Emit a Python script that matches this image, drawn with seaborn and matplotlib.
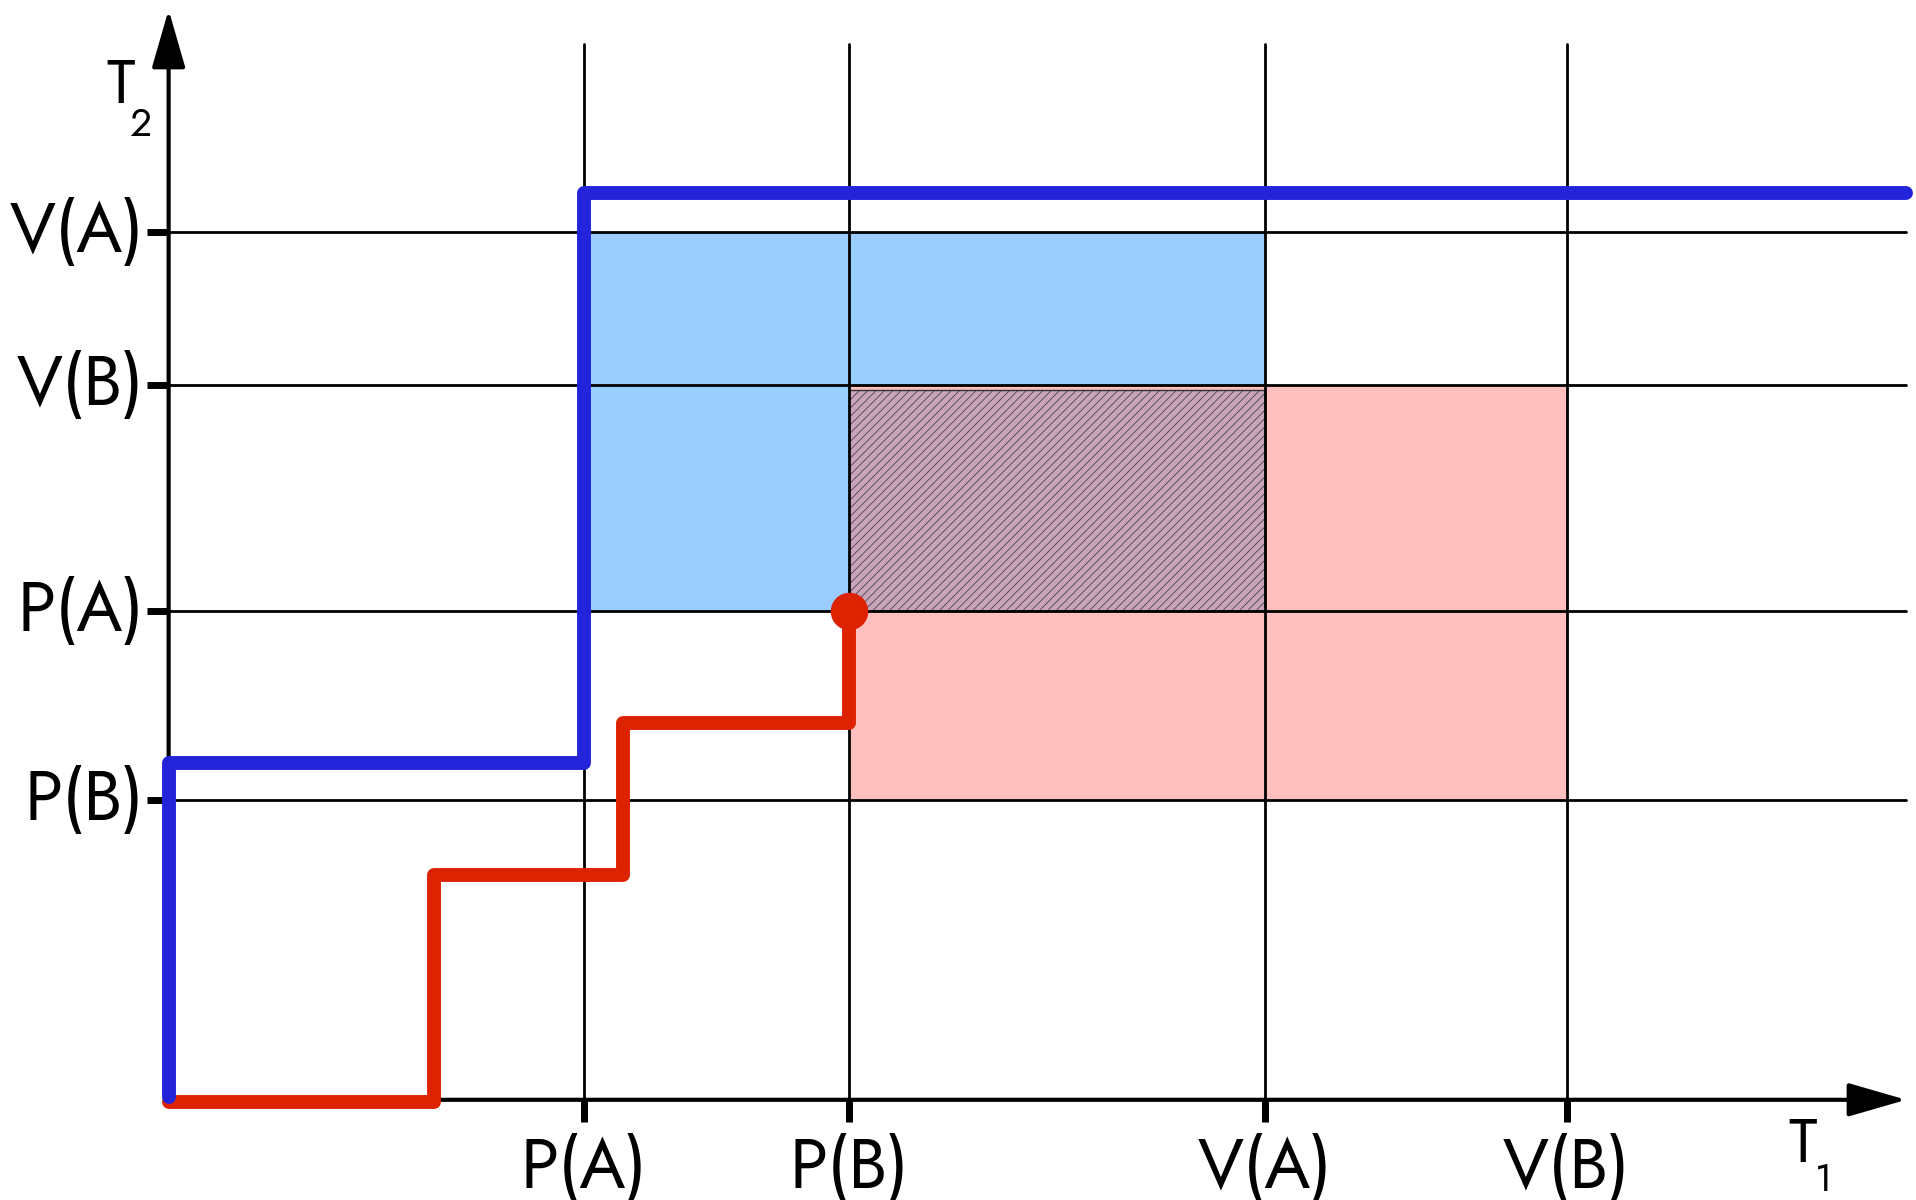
import numpy as np
import pandas as pd
import seaborn as sns
import matplotlib.pyplot as plt
from matplotlib.patches import Rectangle

# Values ######################################################################

t1_labels = ["P(A)", "P(B)", "V(A)", "V(B)"]
t1_values = [3.40, 5.57, 8.97, 11.44]

t2_labels = ["V(A)", "V(B)", "P(A)", "P(B)"]
t2_values = [7.10, 5.85, 4.00, 2.45]

blue_t1 = [0.0, 0.0, 3.40, 3.40, 14.22]
blue_t2 = [0.02, 2.76, 2.76, 7.42, 7.42]

red_t1 = [0.0, 2.17, 2.17, 3.72, 3.72, 5.57, 5.57]
red_t2 = [-0.02, -0.02, 1.84, 1.84, 3.08, 3.08, 4.00]

t1_max = 14.22
t2_max = 8.92
grid_top = 8.64

# Setup #######################################################################

sns.set_theme(style="white")
plt.rcParams['font.family'] = ['Jost', 'DejaVu Sans']
plt.rcParams['text.color'] = 'black'

fig = plt.figure(figsize=(19.16, 12), dpi=100)
ax = fig.add_axes([0, 0, 1, 1])

t1 = dict(zip(t1_labels, t1_values))
t2 = dict(zip(t2_labels, t2_values))

# Regions #####################################################################

blue_box = (t1["P(A)"], t1["V(A)"], t2["P(A)"], t2["V(A)"])
red_box = (t1["P(B)"], t1["V(B)"], t2["P(B)"], t2["V(B)"])
both_box = (max(blue_box[0], red_box[0]), min(blue_box[1], red_box[1]),
            max(blue_box[2], red_box[2]), min(blue_box[3], red_box[3]))

for (x0, x1, y0, y1), col in [(blue_box, '#99ccff'), (red_box, '#ffbfbf')]:
    ax.add_patch(Rectangle((x0, y0), x1 - x0, y1 - y0, facecolor=col,
                           edgecolor='none', zorder=1))

plt.rcParams['hatch.color'] = '#9d8294'
plt.rcParams['hatch.linewidth'] = 0.5
x0, x1, y0, y1 = both_box
ax.add_patch(Rectangle((x0, y0), x1 - x0, y1 - y0 - 0.04, facecolor='#c8a3ba',
                       edgecolor='#333333', linewidth=1.0, hatch='////',
                       zorder=2))

# Grid lines and ticks ########################################################

for v in t1_values:
    ax.plot([v, v], [0, grid_top], color='black', lw=2.0, zorder=3)
    ax.plot([v, v], [-0.18, 0], color='black', lw=5, solid_capstyle='butt', zorder=3)
for v in t2_values:
    ax.plot([0, t1_max], [v, v], color='black', lw=2.0, zorder=3)
    ax.plot([-0.18, 0], [v, v], color='black', lw=5, solid_capstyle='butt', zorder=3)

# Axes with arrows ############################################################

arrow = dict(arrowstyle='-|>,head_length=0.9,head_width=0.26', color='black',
             lw=3.0, mutation_scale=40, shrinkA=0, shrinkB=0)
ax.annotate('', xy=(t1_max, 0), xytext=(0, 0), arrowprops=arrow, zorder=4)
ax.annotate('', xy=(0, t2_max), xytext=(0, 0), arrowprops=arrow, zorder=4)

# Step curves #################################################################

df_blue = pd.DataFrame({'T1': blue_t1, 'T2': blue_t2})
df_red = pd.DataFrame({'T1': red_t1, 'T2': red_t2})

sns.lineplot(data=df_red, x='T1', y='T2', sort=False, estimator=None,
             color='#dd2200', lw=10, ax=ax, zorder=5)
sns.lineplot(data=df_blue, x='T1', y='T2', sort=False, estimator=None,
             color='#2323d9', lw=10, ax=ax, zorder=6)
ax.plot(red_t1[-1], red_t2[-1], 'o', color='#dd2200', markersize=26, zorder=5)
ax.set_xlim(-1.38, 14.30)
ax.set_ylim(-0.82, 9.00)
ax.axis('off')

# Labels ######################################################################

lab_font = dict(family=['Jost', 'DejaVu Sans'], weight='light')

for lab, v in zip(t1_labels, t1_values):
    ax.text(v, -0.56, lab, ha='center', va='center', fontsize=50, **lab_font)
for lab, v in zip(t2_labels, t2_values):
    ax.text(-0.20, v, lab, ha='right', va='center', fontsize=50, **lab_font)

ax.text(-0.39, 8.30, 'T', ha='center', va='center', fontsize=44, **lab_font)
ax.text(-0.23, 7.98, '2', ha='center', va='center', fontsize=28, **lab_font)
ax.text(13.37, -0.37, 'T', ha='center', va='center', fontsize=44, **lab_font)
ax.text(13.54, -0.66, '1', ha='center', va='center', fontsize=28, **lab_font)

fig.savefig('out.png', dpi=100)
